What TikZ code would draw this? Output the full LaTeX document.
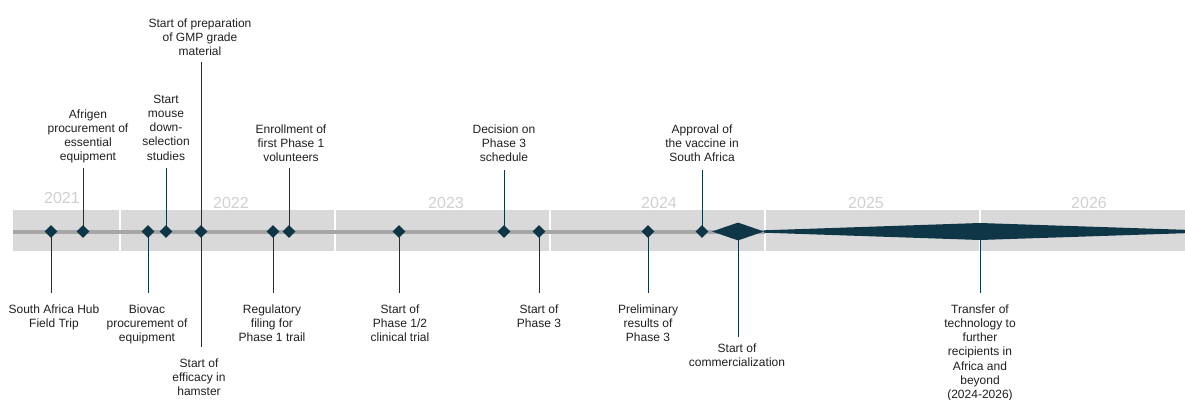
\documentclass[tikz,border=0pt]{standalone}
\usepackage{fontspec}
\setmainfont{Liberation Sans}
\usetikzlibrary{shapes.geometric}
\definecolor{bandc}{HTML}{D9D9D9}
\definecolor{axisc}{HTML}{A6A6A6}
\definecolor{markc}{HTML}{0F3646}
\definecolor{yrc}{HTML}{D0D0D0}
\definecolor{txtc}{HTML}{1F1F1F}
\newcommand{\lbl}[1]{\begin{tabular}[t]{@{}c@{}}#1\end{tabular}}
\begin{document}
\begin{tikzpicture}[x=1pt,y=-1pt,
  evt/.style={diamond,fill=markc,draw=none,inner sep=0pt,minimum width=13pt,minimum height=13pt},
  bigevt/.style={diamond,fill=markc,draw=none,inner sep=0pt,minimum width=52pt,minimum height=18pt},
  conn/.style={draw=markc,line width=0.9pt},
  lab/.style={anchor=base,inner sep=0pt,text=txtc,font=\fontsize{12}{14.3}\selectfont},
  yearlab/.style={anchor=base,inner sep=0pt,text=yrc,font=\fontsize{16}{19}\selectfont},
  seg/.style={fill=bandc,draw=none},
  axisline/.style={draw=axisc,line width=4pt}]
\useasboundingbox (0,0) rectangle (1185,399);
% band segments
\fill[seg] (13,210) rectangle (119,251);
\fill[seg] (121,210) rectangle (334,251);
\fill[seg] (336,210) rectangle (549,251);
\fill[seg] (551,210) rectangle (764,251);
\fill[seg] (766,210) rectangle (979,251);
\fill[seg] (981,210) rectangle (1185,251);
% years
\node[yearlab] (y21) at (62,203) {2021};
\node[yearlab] (y22) at (231,208) {2022};
\node[yearlab] (y23) at (446,208) {2023};
\node[yearlab] (y24) at (659,208) {2024};
\node[yearlab] (y25) at (866,208) {2025};
\node[yearlab] (y26) at (1089,208) {2026};
% axis
\coordinate (axL) at (13,231.5);
\coordinate (axR) at (765,231.5);
\draw[axisline] (axL) -- (axR);
% spindle
\fill[markc] (764,230.3) -- (980,223) -- (1185,229.8) -- (1185,233.2) -- (980,240) -- (764,232.7) -- cycle;
\coordinate (sp) at (980,231.5);
% diamond coordinates
\coordinate (p1) at (51,231.5);
\coordinate (p2) at (83,231.5);
\coordinate (p3) at (148,231.5);
\coordinate (p4) at (166,231.5);
\coordinate (p5) at (201,231.5);
\coordinate (p6) at (273,231.5);
\coordinate (p7) at (289,231.5);
\coordinate (p8) at (399,231.5);
\coordinate (p9) at (504,231.5);
\coordinate (p10) at (539,231.5);
\coordinate (p11) at (648,231.5);
\coordinate (p12) at (702,231.5);
\coordinate (p13) at (738,231.5);
% connector ends
\coordinate (u2) at (83,168);
\coordinate (u4) at (166,168);
\coordinate (u5) at (201,62);
\coordinate (u7) at (289,168);
\coordinate (u9) at (504,170);
\coordinate (u12) at (702,170);
\coordinate (l1) at (51,293);
\coordinate (l3) at (148,293);
\coordinate (l5) at (201,347);
\coordinate (l6) at (273,293);
\coordinate (l8) at (399,293);
\coordinate (l10) at (539,293);
\coordinate (l11) at (648,293);
\coordinate (l13) at (738,337);
\coordinate (l14) at (980,293);
% connectors
\draw[conn] (u2) -- (p2);
\draw[conn] (u4) -- (p4);
\draw[conn] (u5) -- (p5);
\draw[conn] (u7) -- (p7);
\draw[conn] (u9) -- (p9);
\draw[conn] (u12) -- (p12);
\draw[conn] (p1) -- (l1);
\draw[conn] (p3) -- (l3);
\draw[conn] (p5) -- (l5);
\draw[conn] (p6) -- (l6);
\draw[conn] (p8) -- (l8);
\draw[conn] (p10) -- (l10);
\draw[conn] (p11) -- (l11);
\draw[conn] (p13) -- (l13);
\draw[conn] (sp) -- (l14);
% diamonds
\foreach \i in {1,...,12} \node[evt] (d\i) at (p\i) {};
\node[bigevt] (d13) at (p13) {};
% labels above
\node[lab] (t2) at (88,118) {\lbl{Afrigen\\procurement of\\essential\\equipment}};
\node[lab] (t4) at (166,103) {\lbl{Start\\mouse\\down-\\selection\\studies}};
\node[lab] (t5a) at (200,27) {\lbl{Start of preparation\\of GMP grade\\material}};
\node[lab] (t7) at (291,133) {\lbl{Enrollment of\\first Phase 1\\volunteers}};
\node[lab] (t9) at (504,133) {\lbl{Decision on\\Phase 3\\schedule}};
\node[lab] (t12) at (702,133) {\lbl{Approval of\\the vaccine in\\South Africa}};
% labels below
\node[lab] (t1) at (54,313) {\lbl{South Africa Hub\\Field Trip}};
\node[lab] (t3) at (147,313) {\lbl{Biovac\\procurement of\\equipment}};
\node[lab] (t5b) at (199,367) {\lbl{Start of\\efficacy in\\hamster}};
\node[lab] (t6) at (272,313) {\lbl{Regulatory\\filing for\\Phase 1 trail}};
\node[lab] (t8) at (400,313) {\lbl{Start of\\Phase 1/2\\clinical trial}};
\node[lab] (t10) at (539,313) {\lbl{Start of\\Phase 3}};
\node[lab] (t11) at (648,313) {\lbl{Preliminary\\results of\\Phase 3}};
\node[lab] (t13) at (737,352) {\lbl{Start of\\commercialization}};
\node[lab] (t14) at (980,313) {\lbl{Transfer of\\technology to\\further\\recipients in\\Africa and\\beyond\\(2024-2026)}};
\end{tikzpicture}
\end{document}
